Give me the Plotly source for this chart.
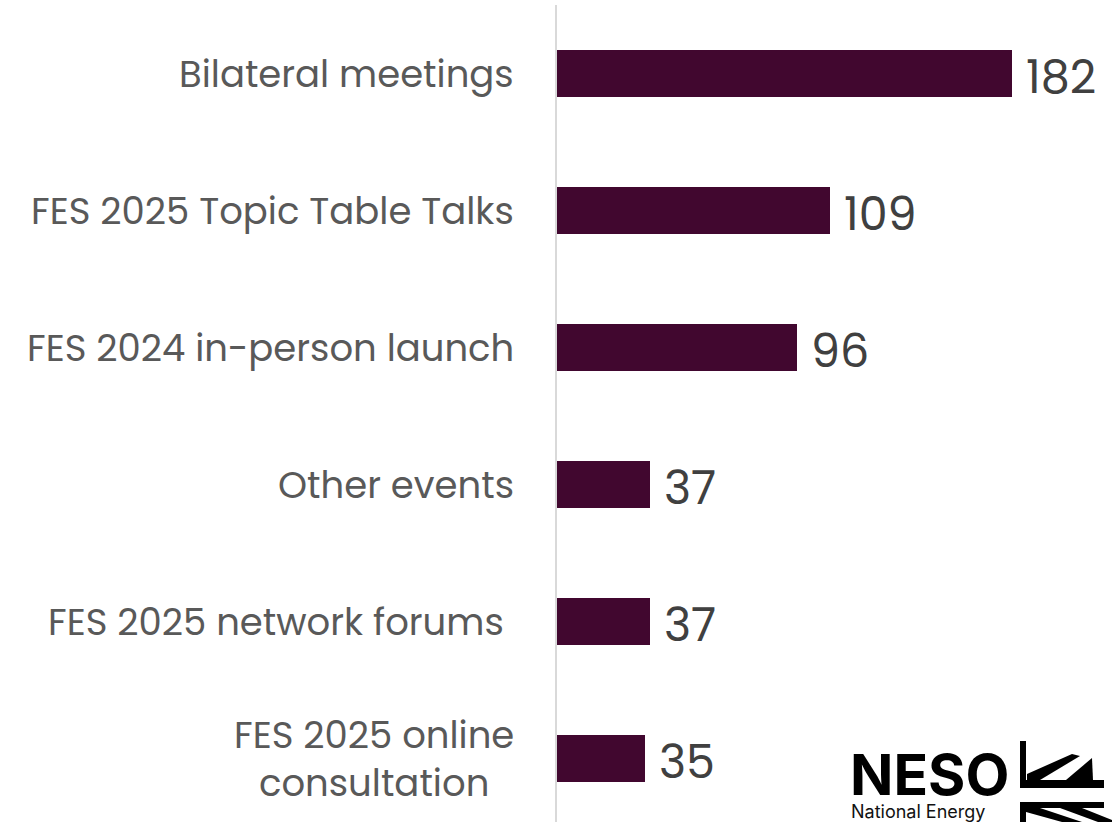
import plotly.graph_objects as go

# Stakeholder engagement counts by channel
categories = [
    "Bilateral meetings",
    "FES 2025 Topic Table Talks",
    "FES 2024 in-person launch",
    "Other events",
    "FES 2025 network forums\u00a0",
    "FES 2025 online<br>consultation",
]
values = [182, 109, 96, 37, 37, 35]

W, H = 1114, 822
ML, MR, MT, MB = 557, 0, 5, 0
PW, PH = W - ML - MR, H - MT - MB

BAR = "#41072f"
LABEL = "#595959"
FONT = "Poppins, Inter, Lato, sans-serif"


def px(x):
    return (x - ML) / PW


def py(y):
    return (H - MB - y) / PH


fig = go.Figure()
fig.add_trace(go.Bar(
    x=values,
    y=list(range(len(categories))),
    orientation="h",
    width=0.35,
    marker=dict(color=BAR, line=dict(width=0)),
    hoverinfo="skip",
))

annotations = []
for i, c in enumerate(categories):
    annotations.append(dict(
        x=px(516), xref="paper", xanchor="right",
        y=i, yref="y", yanchor="middle",
        text=c, showarrow=False, align="center",
        font=dict(family=FONT, size=37, color=LABEL),
    ))

# value labels just past the end of each bar
for i, v in enumerate(values):
    annotations.append(dict(
        x=v, xref="x", xanchor="left", xshift=12,
        y=i, yref="y", yanchor="middle", yshift=-3,
        text=str(v), showarrow=False,
        font=dict(family=FONT, size=46, color="#404040"),
    ))

# Logo wordmark
annotations.append(dict(
    x=px(848), xref="paper", xanchor="left",
    y=py(774), yref="paper", yanchor="middle",
    text="<b>NESO</b>", showarrow=False,
    font=dict(family="Inter, sans-serif", size=57, color="#000000"),
))
annotations.append(dict(
    x=px(849), xref="paper", xanchor="left",
    y=py(811), yref="paper", yanchor="middle",
    text="National Energy", showarrow=False,
    font=dict(family="Inter, sans-serif", size=18, color="#111111"),
))


def poly(points):
    d = "M " + " L ".join(f"{px(a):.5f},{py(b):.5f}" for a, b in points) + " Z"
    return dict(type="path", path=d, xref="paper", yref="paper",
                fillcolor="#000000", line=dict(width=0), layer="above")


shapes = [
    # upper emblem
    poly([(1020, 741), (1026, 741), (1026, 788), (1020, 788)]),
    poly([(1020, 780), (1104, 780), (1104, 788), (1020, 788)]),
    poly([(1027, 780), (1027, 774), (1072, 754), (1080, 756), (1040, 780)]),
    poly([(1066, 780), (1092, 758), (1093, 780)]),
    # lower emblem
    poly([(1020, 802), (1104, 802), (1104, 808), (1020, 808)]),
    poly([(1020, 802), (1026, 802), (1026, 822), (1020, 822)]),
    poly([(1026, 808), (1040, 808), (1082, 822), (1062, 822), (1026, 812)]),
    poly([(1060, 808), (1082, 808), (1112, 820), (1112, 822), (1098, 822)]),
]

fig.update_layout(
    width=W, height=H,
    margin=dict(l=ML, r=MR, t=MT, b=MB, pad=0),
    paper_bgcolor="white", plot_bgcolor="white",
    showlegend=False,
    bargap=0,
    xaxis=dict(range=[0, PW / 2.5], visible=False, fixedrange=True),
    yaxis=dict(
        range=[-0.5 + PH / 137.0, -0.5],
        showticklabels=False, ticks="",
        showgrid=False, zeroline=False,
        showline=True, linecolor="#d9d9d9", linewidth=2,
        fixedrange=True,
    ),
    annotations=annotations,
    shapes=shapes,
)

fig.write_html("out.html", config={"displayModeBar": False})
